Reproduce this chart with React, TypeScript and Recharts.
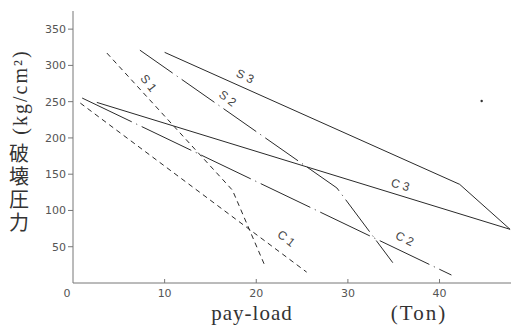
import { LineChart, Line, XAxis, YAxis, ReferenceDot } from 'recharts';

// breaking pressure (kg/cm2) vs pay-load (ton)
const S1 = [
  { x: 3.7, y: 317 },
  { x: 17.4, y: 128 },
  { x: 20.9, y: 25 },
];
const S2 = [
  { x: 7.3, y: 321 },
  { x: 28.8, y: 131 },
  { x: 34.9, y: 28 },
];
const S3 = [
  { x: 10.0, y: 318 },
  { x: 42.2, y: 136 },
  { x: 47.7, y: 74 },
];
const C1 = [
  { x: 0.8, y: 248 },
  { x: 25.5, y: 15 },
];
const C2 = [
  { x: 1.0, y: 255 },
  { x: 41.3, y: 11 },
];
const C3 = [
  { x: 2.6, y: 249 },
  { x: 47.7, y: 74 },
];

const X_TICKS = [0, 10, 20, 30, 40];
const Y_TICKS = [50, 100, 150, 200, 250, 300, 350];

const LABELS = [
  { text: 'S 3', x: 18.6, y: 280, angle: 25 },
  { text: 'S 2', x: 16.6, y: 250, angle: 38 },
  { text: 'S 1', x: 7.9, y: 272, angle: 52 },
  { text: 'C 3', x: 35.6, y: 130, angle: 16 },
  { text: 'C 2', x: 36.0, y: 56, angle: 26 },
  { text: 'C 1', x: 23.0, y: 57, angle: 38 },
];
const SPECK = { x: 44.6, y: 251 };

const INK = '#2a2a2a';

function XTick({ x, y, payload }: any) {
  const v = payload.value;
  return (
    <g>
      {v !== 0 && <line x1={x} x2={x} y1={y} y2={y - 4} stroke="#777" />}
      <text
        x={v === 0 ? x - 6 : x}
        y={y + 14}
        textAnchor="middle"
        fontSize={11}
        fontFamily="DejaVu Sans"
        fill="#555"
      >
        {v}
      </text>
    </g>
  );
}

function SeriesLabel(l: { text: string; angle: number }) {
  return (p: any) => (
    <text
      x={p.cx}
      y={p.cy}
      textAnchor="middle"
      transform={`rotate(${l.angle} ${p.cx} ${p.cy})`}
      fontSize={12}
      fontFamily="Liberation Sans"
      fill="#444"
    >
      {l.text}
    </text>
  );
}

export default function App() {
  return (
    <div style={{ position: 'absolute', left: 0, top: 0, background: '#fff' }}>
      <LineChart width={511} height={328} margin={{ top: 11, right: 0, bottom: 0, left: 0 }}>
        <XAxis
          type="number"
          dataKey="x"
          domain={[0, 47.8]}
          ticks={X_TICKS}
          height={45}
          tickSize={0}
          tickMargin={0}
          tickLine={false}
          tick={<XTick />}
          axisLine={{ stroke: '#777' }}
          allowDataOverflow
        />
        <YAxis
          type="number"
          dataKey="y"
          domain={[0, 375]}
          ticks={Y_TICKS}
          width={73}
          tickSize={5}
          tickMargin={2}
          tick={{ fontSize: 11, fill: '#555', fontFamily: 'DejaVu Sans' }}
          tickLine={{ stroke: '#777' }}
          axisLine={{ stroke: '#777' }}
          allowDataOverflow
        />
        <Line data={S1} dataKey="y" stroke={INK} strokeWidth={1} strokeDasharray="5 4" dot={false} isAnimationActive={false} />
        <Line data={S2} dataKey="y" stroke={INK} strokeWidth={1} strokeDasharray="40 5 1 5" dot={false} isAnimationActive={false} />
        <Line data={S3} dataKey="y" stroke={INK} strokeWidth={1} dot={false} isAnimationActive={false} />
        <Line data={C1} dataKey="y" stroke={INK} strokeWidth={1} strokeDasharray="5 4" dot={false} isAnimationActive={false} />
        <Line data={C2} dataKey="y" stroke={INK} strokeWidth={1} strokeDasharray="55 5 1 5" dot={false} isAnimationActive={false} />
        <Line data={C3} dataKey="y" stroke={INK} strokeWidth={1} dot={false} isAnimationActive={false} />
        {LABELS.map((l) => (
          <ReferenceDot key={l.text} x={l.x} y={l.y} r={0} shape={SeriesLabel(l)} />
        ))}
        <ReferenceDot x={SPECK.x} y={SPECK.y} r={1.2} fill="#333" stroke="none" />
        <text
          x={20}
          y={92}
          transform="rotate(-90 20 92)"
          textAnchor="middle"
          dominantBaseline="central"
          fontSize={20}
          letterSpacing={2}
          fontFamily="Liberation Serif"
          fill="#333"
        >
          (kg/cm²)
        </text>
        <text
          x={19}
          y={143}
          writingMode="tb"
          style={{ writingMode: 'vertical-rl' }}
          fontSize={20}
          letterSpacing={3}
          fontFamily="Noto Sans CJK JP"
          fill="#333"
        >
          破壊圧力
        </text>
        <text x={252} y={320} textAnchor="middle" fontSize={21} letterSpacing={1} fontFamily="Liberation Serif" fill="#333">
          pay-load
        </text>
        <text x={419} y={320} textAnchor="middle" fontSize={21} letterSpacing={2} fontFamily="Liberation Serif" fill="#333">
          (Ton)
        </text>
      </LineChart>
    </div>
  );
}
